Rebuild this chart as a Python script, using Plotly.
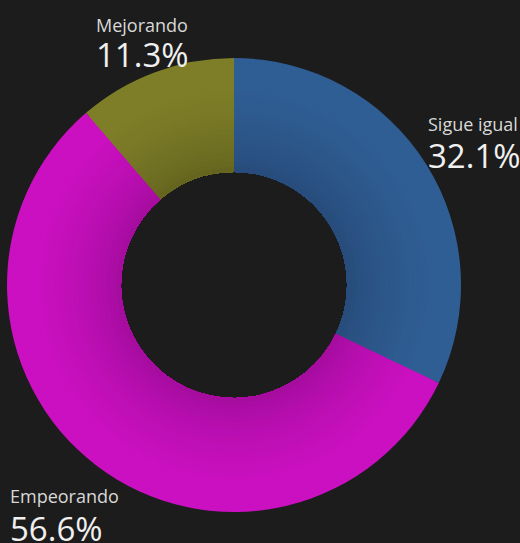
import plotly.graph_objects as go

# ---- data ----
categories = ["Sigue igual", "Empeorando", "Mejorando"]
values = [32.1, 56.6, 11.3]

# ---- style ----
W, H = 520, 543
BG = "#1c1c1c"
outer_cols = [(47, 94, 148), (202, 16, 192), (126, 126, 40)]
inner_cols = [(38, 72, 118), (158, 12, 152), (96, 96, 30)]
CX, CY = 234, 285          # centre in pixels
R_OUT, R_IN = 227, 113     # radii in pixels
N_RINGS = 24

# label placement (pixels: left x, name middle y, percent middle y)
label_pos = {
    "Mejorando": (94, 25, 55),
    "Sigue igual": (426, 124, 155),
    "Empeorando": (8, 496, 528),
}


def mix(a, b, t):
    return "rgb(%d,%d,%d)" % tuple(round(a[i] + (b[i] - a[i]) * t) for i in range(3))


fig = go.Figure()
for k in range(N_RINGS):
    r = R_OUT - (R_OUT - R_IN) * k / N_RINGS
    t = (r - R_IN) / (R_OUT - R_IN)
    s = min(1.0, t / 0.75) ** 0.6
    cols = [mix(inner_cols[i], outer_cols[i], s) for i in range(3)]
    fig.add_trace(go.Pie(
        labels=categories, values=values, sort=False,
        direction="clockwise", rotation=0,
        hole=R_IN / r,
        marker=dict(colors=cols, line=dict(width=0)),
        textinfo="none", hoverinfo="label+percent",
        showlegend=False,
        domain=dict(x=[(CX - r) / W, (CX + r) / W],
                    y=[1 - (CY + r) / H, 1 - (CY - r) / H]),
    ))

total = sum(values)
for cat, v in zip(categories, values):
    x, yn, yp = label_pos[cat]
    fig.add_annotation(x=x / W, y=1 - yn / H, xref="paper", yref="paper",
                       xanchor="left", yanchor="middle", showarrow=False,
                       text=cat, font=dict(family="Open Sans", size=18, color="#d8d8d8"))
    fig.add_annotation(x=x / W, y=1 - yp / H, xref="paper", yref="paper",
                       xanchor="left", yanchor="middle", showarrow=False,
                       text="%.1f%%" % (100 * v / total),
                       font=dict(family="Open Sans", size=33, color="#f0f0f0"))

fig.update_layout(width=W, height=H, margin=dict(l=0, r=0, t=0, b=0),
                  paper_bgcolor=BG, plot_bgcolor=BG)
fig.write_html(
    "out.html",
    config={"displayModeBar": False},
    post_script="document.body.style.margin='0';document.body.style.overflow='hidden';"
                "document.body.style.background='%s';" % BG,
)
